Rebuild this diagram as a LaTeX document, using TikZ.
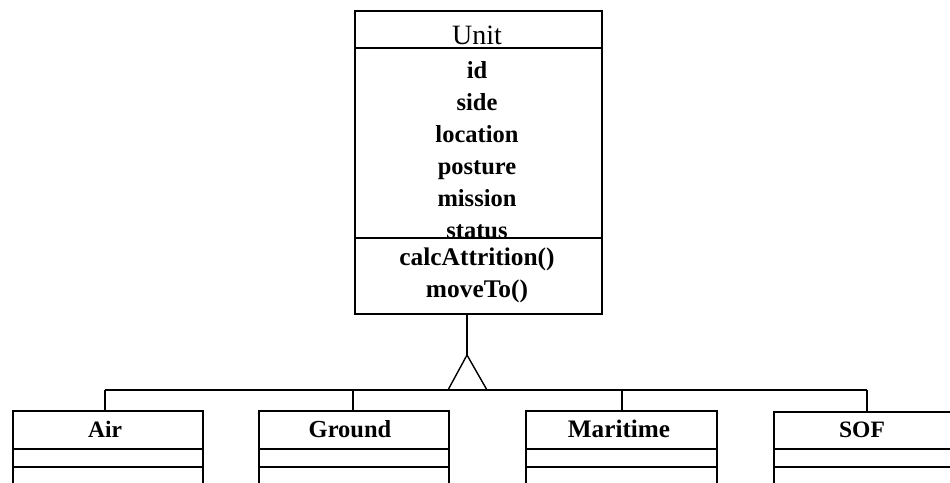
\documentclass[tikz,border=0pt]{standalone}
\usepackage{fontspec}
\setmainfont{Liberation Serif}
\begin{document}
\begin{tikzpicture}[x=1pt,y=-1pt,
  box/.style={draw,line width=1.7pt,rectangle,inner sep=0pt,anchor=north west},
  sep/.style={line width=1.6pt},
  conn/.style={line width=1.4pt},
  title/.style={anchor=base,inner sep=0pt,font=\fontsize{28}{30}\selectfont},
  attr/.style={anchor=base,inner sep=0pt,font=\bfseries\fontsize{24.5}{30}\selectfont},
  meth/.style={anchor=base,inner sep=0pt,font=\bfseries\fontsize{25.4}{30}\selectfont},
  sub/.style={anchor=base,inner sep=0pt,font=\bfseries\fontsize{24.5}{30}\selectfont}]
\useasboundingbox (0,0) rectangle (950,482);
\clip (0,0) rectangle (950,482);
\fill[white] (0,0) rectangle (950,482);
% Unit class
\node[box,minimum width=247pt,minimum height=303pt] (unit) at (354,10) {};
\node[title] (utitle) at (477,44) {Unit};
\begin{scope}
\clip (354,48) rectangle (601,237);
\foreach \t [count=\i] in {id,side,location,posture,mission,status}
  \node[attr] (attr\i) at (477,{78+32*(\i-1)}) {\t};
\end{scope}
\node[meth] (m1) at (477,265) {calcAttrition()};
\node[meth] (m2) at (477,297) {moveTo()};
\draw[sep] (unit.north west |- 0,48) -- (unit.north east |- 0,48);
\draw[sep] (unit.north west |- 0,238) -- (unit.north east |- 0,238);
% subclasses
\node[box,minimum width=190pt,minimum height=120pt] (air) at (12,410) {};
\node[box,minimum width=190pt,minimum height=120pt] (ground) at (258,410) {};
\node[box,minimum width=191pt,minimum height=120pt] (maritime) at (525,410) {};
\node[box,minimum width=178pt,minimum height=120pt] (sof) at (773,411) {};
\node[sub,font=\bfseries\fontsize{23.5}{30}\selectfont] (tair) at (105,437) {Air};
\node[sub] (tground) at (350,437) {Ground};
\node[sub,font=\bfseries\fontsize{25.2}{30}\selectfont] (tmaritime) at (619,437) {Maritime};
\node[sub,font=\bfseries\fontsize{23.5}{30}\selectfont] (tsof) at (862,437) {SOF};
\foreach \n in {air,ground,maritime,sof}{
  \draw[sep] (\n.north west |- 0,449) -- (\n.north east |- 0,449);
  \draw[sep] (\n.north west |- 0,467) -- (\n.north east |- 0,467);
}
% generalization
\coordinate (apex) at (467,355);
\coordinate (tl) at (448,390);
\coordinate (tr) at (487,390);
\coordinate (busl) at (105,390);
\coordinate (busr) at (867,390);
\draw[conn] (unit.south -| apex) -- (apex);
\draw[conn,line join=miter] (tl) -- (apex) -- (tr);
\draw[conn] (busl) -- (busr);
\draw[conn] (busl) -- (busl |- air.north);
\draw[conn] (353,390) -- (353,410);
\draw[conn] (622,390) -- (622,410);
\draw[conn] (busr) -- (busr |- sof.north);
\end{tikzpicture}
\end{document}
